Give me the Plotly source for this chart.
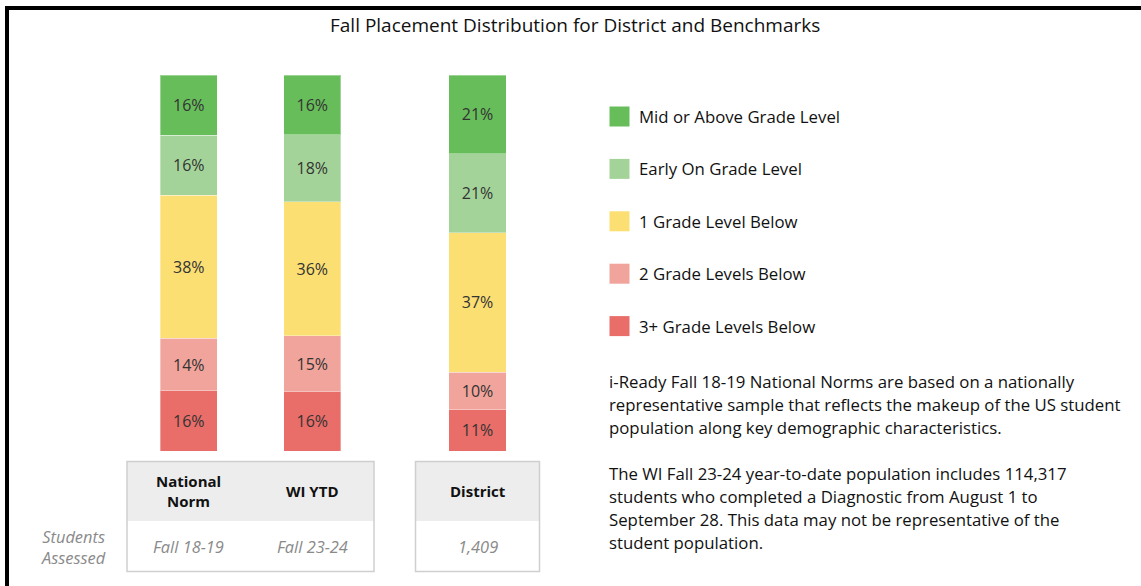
import plotly.graph_objects as go

W, H = 1141, 586

# ---- data ----
title = "Fall Placement Distribution for District and Benchmarks"
benchmarks = ["National Norm", "WI YTD"]
benchmark_headers = ["<b>National</b><br><b>Norm</b>", "<b>WI YTD</b>"]
benchmark_assessed = ["Fall 18-19", "Fall 23-24"]
district = ["District"]
district_assessed = ["1,409"]

levels = ["3+ Grade Levels Below", "2 Grade Levels Below", "1 Grade Level Below",
          "Early On Grade Level", "Mid or Above Grade Level"]  # bottom -> top
colors = ["#E96D68", "#F1A49B", "#FBDF73", "#A4D399", "#67BD5A"]

benchmark_values = {
    "3+ Grade Levels Below": [16, 16],
    "2 Grade Levels Below": [14, 15],
    "1 Grade Level Below": [38, 36],
    "Early On Grade Level": [16, 18],
    "Mid or Above Grade Level": [16, 16],
}
district_values = {
    "3+ Grade Levels Below": [11],
    "2 Grade Levels Below": [10],
    "1 Grade Level Below": [37],
    "Early On Grade Level": [21],
    "Mid or Above Grade Level": [21],
}

notes_p1 = ["i-Ready Fall 18-19 National Norms are based on a nationally",
            "representative sample that reflects the makeup of the US student",
            "population along key demographic characteristics."]
notes_p2 = ["The WI Fall 23-24 year-to-date population includes 114,317",
            "students who completed a Diagnostic from August 1 to",
            "September 28. This data may not be representative of the",
            "student population."]

FONT = "Open Sans"


def px(x):
    return x / W


def py(y):
    return 1 - y / H


fig = go.Figure()

for lvl, col in zip(levels, colors):
    fig.add_trace(go.Bar(
        x=benchmarks, y=benchmark_values[lvl], name=lvl,
        marker=dict(color=col, line=dict(color="rgba(255,255,255,0.35)", width=1)),
        text=[f"{v}%" for v in benchmark_values[lvl]],
        textposition="inside", insidetextanchor="middle", textangle=0,
        constraintext="none",
        textfont=dict(family=FONT, size=16, color="#333333"),
        width=0.46, xaxis="x", yaxis="y", showlegend=False, hoverinfo="skip"))
    fig.add_trace(go.Bar(
        x=district, y=district_values[lvl], name=lvl,
        marker=dict(color=col, line=dict(color="rgba(255,255,255,0.35)", width=1)),
        text=[f"{v}%" for v in district_values[lvl]],
        textposition="inside", insidetextanchor="middle", textangle=0,
        constraintext="none",
        textfont=dict(family=FONT, size=16, color="#333333"),
        width=0.46, xaxis="x2", yaxis="y2", showlegend=False, hoverinfo="skip"))

shapes = []
annotations = []

# frame lines (top and left)
shapes.append(dict(type="rect", xref="paper", yref="paper", x0=px(5), x1=px(W), y0=py(6), y1=py(10),
                   fillcolor="black", line=dict(width=0), layer="above"))
shapes.append(dict(type="rect", xref="paper", yref="paper", x0=px(5), x1=px(9), y0=py(6), y1=py(H),
                   fillcolor="black", line=dict(width=0), layer="above"))

# title
annotations.append(dict(text=title, x=px(575), y=py(25), xref="paper", yref="paper",
                        showarrow=False, xanchor="center", yanchor="middle",
                        font=dict(family=FONT, size=19, color="#111111")))

# table boxes
for (x0, x1) in [(127, 374), (415.5, 539.5)]:
    shapes.append(dict(type="rect", xref="paper", yref="paper", x0=px(x0), x1=px(x1),
                       y0=py(521), y1=py(461.5), fillcolor="#EDEDED", line=dict(width=0), layer="below"))
    shapes.append(dict(type="rect", xref="paper", yref="paper", x0=px(x0), x1=px(x1),
                       y0=py(571.5), y1=py(461.5), fillcolor="rgba(0,0,0,0)",
                       line=dict(color="#CFCFCF", width=1.5), layer="below"))

for cat, hdr, sub in zip(benchmarks, benchmark_headers, benchmark_assessed):
    annotations.append(dict(text=hdr, x=cat, y=py(491), xref="x", yref="paper", showarrow=False,
                            font=dict(family=FONT, size=15, color="#111111"), yanchor="middle"))
    annotations.append(dict(text=f"<i>{sub}</i>", x=cat, y=py(546), xref="x", yref="paper", showarrow=False,
                            font=dict(family=FONT, size=16.4, color="#8A8A8A"), yanchor="middle"))
for cat, sub in zip(district, district_assessed):
    annotations.append(dict(text=f"<b>{cat}</b>", x=cat, y=py(491), xref="x2", yref="paper", showarrow=False,
                            font=dict(family=FONT, size=15, color="#111111"), yanchor="middle"))
    annotations.append(dict(text=f"<i>{sub}</i>", x=cat, y=py(546), xref="x2", yref="paper", showarrow=False,
                            font=dict(family=FONT, size=16.4, color="#8A8A8A"), yanchor="middle"))

annotations.append(dict(text="<i>Students</i><br><i>Assessed</i>", x=px(73), y=py(547), xref="paper", yref="paper",
                        showarrow=False, font=dict(family=FONT, size=16.4, color="#8A8A8A"),
                        xanchor="center", yanchor="middle"))

# legend (top -> bottom)
for i, (lvl, col) in enumerate(zip(levels[::-1], colors[::-1])):
    yc = 116.5 + i * 52.4
    shapes.append(dict(type="rect", xref="paper", yref="paper", x0=px(609.5), x1=px(629.5),
                       y0=py(yc + 10), y1=py(yc - 10), fillcolor=col, line=dict(width=0)))
    annotations.append(dict(text=lvl, x=px(637), y=py(yc), xref="paper", yref="paper", showarrow=False,
                            xanchor="left", yanchor="middle",
                            font=dict(family=FONT, size=16.8, color="#111111")))

# notes
for i, line in enumerate(notes_p1):
    annotations.append(dict(text=line, x=px(607), y=py(381 + i * 23.2), xref="paper", yref="paper",
                            showarrow=False, xanchor="left", yanchor="middle",
                            font=dict(family=FONT, size=16.8, color="#111111")))
for i, line in enumerate(notes_p2):
    annotations.append(dict(text=line, x=px(607), y=py(473 + i * 23.2), xref="paper", yref="paper",
                            showarrow=False, xanchor="left", yanchor="middle",
                            font=dict(family=FONT, size=16.8, color="#111111")))

fig.update_layout(
    width=W, height=H, margin=dict(l=0, r=0, t=0, b=0),
    paper_bgcolor="white", plot_bgcolor="rgba(0,0,0,0)",
    barmode="stack", barnorm="percent", showlegend=False,
    xaxis=dict(domain=[px(127), px(374)], type="category", categoryorder="array",
               categoryarray=benchmarks, range=[-0.5, 1.5], visible=False, fixedrange=True),
    xaxis2=dict(domain=[px(415.5), px(539.5)], type="category", range=[-0.5, 0.5],
                visible=False, anchor="y2", fixedrange=True),
    yaxis=dict(domain=[py(451), py(75)], range=[0, 100], visible=False, fixedrange=True),
    yaxis2=dict(domain=[py(451), py(75)], range=[0, 100], visible=False, anchor="x2", fixedrange=True),
    shapes=shapes, annotations=annotations,
)

fig.write_html("out.html", config={"displayModeBar": False},
               post_script="document.body.style.margin='0';document.body.style.overflow='hidden';")
